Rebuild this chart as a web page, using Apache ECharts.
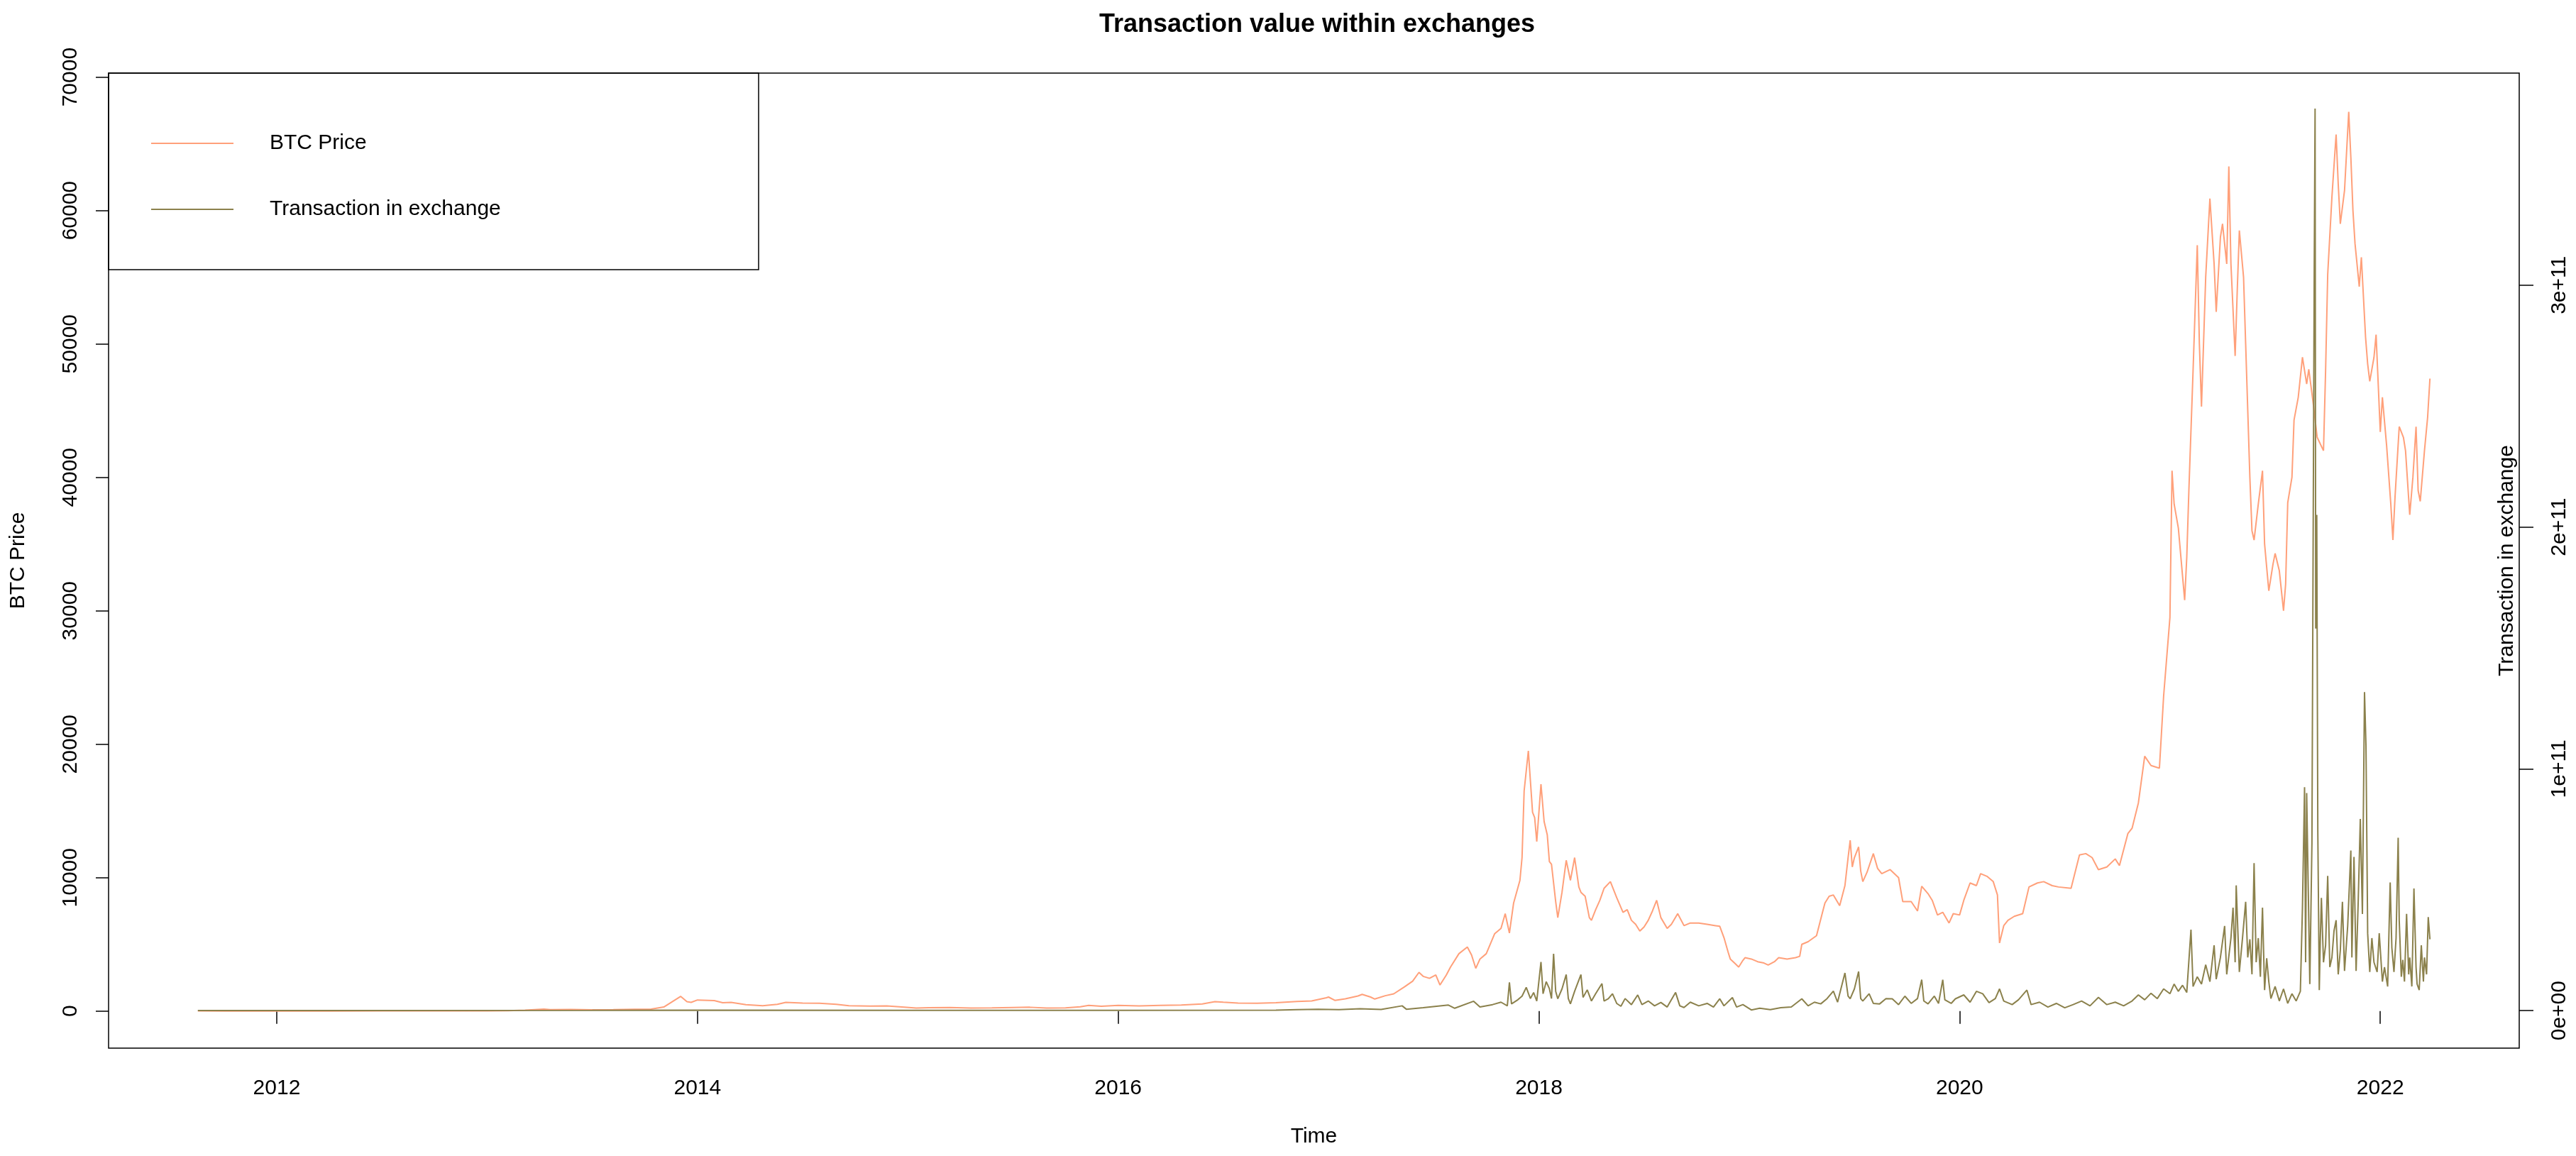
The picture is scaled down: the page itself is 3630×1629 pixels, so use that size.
<!DOCTYPE html>
<html>
<head>
<meta charset="utf-8">
<script src="https://cdn.jsdelivr.net/npm/echarts@6/dist/echarts.min.js"></script>
<style>
  html, body { margin: 0; padding: 0; background: #ffffff; }
  #chart { width: 3630px; height: 1629px; }
</style>
</head>
<body>
<div id="chart"></div>
<script>
// ---- Data ----
// Time in decimal years
const xTickYears = [2012, 2014, 2016, 2018, 2020, 2022];
const leftTicks = [0, 10000, 20000, 30000, 40000, 50000, 60000, 70000];
const rightTicks = [0, 100, 200, 300]; // in billions (1e9)
const rightTickLabels = ['0e+00', '1e+11', '2e+11', '3e+11'];

const priceTime = [
  2011.625, 2011.75, 2011.9, 2012.0, 2012.25, 2012.5, 2012.7, 2012.9, 2013.0, 2013.1,
  2013.18, 2013.27, 2013.3, 2013.4, 2013.5, 2013.6, 2013.7, 2013.78, 2013.84, 2013.88,
  2013.92, 2013.95, 2013.97, 2014.0, 2014.08, 2014.12, 2014.16, 2014.23, 2014.31, 2014.38,
  2014.42, 2014.5, 2014.58, 2014.66, 2014.72, 2014.82, 2014.9, 2014.96, 2015.04, 2015.1,
  2015.2, 2015.3, 2015.4, 2015.5, 2015.58, 2015.66, 2015.75, 2015.82, 2015.86, 2015.92,
  2016.0, 2016.1, 2016.2, 2016.3, 2016.4, 2016.46, 2016.5, 2016.57, 2016.66, 2016.75,
  2016.85, 2016.92, 2016.99, 2017.0, 2017.03, 2017.08, 2017.14, 2017.16, 2017.2, 2017.22,
  2017.27, 2017.31, 2017.36, 2017.40, 2017.43, 2017.45, 2017.48, 2017.51, 2017.53, 2017.56,
  2017.58, 2017.62, 2017.66, 2017.68, 2017.70, 2017.72, 2017.75, 2017.79, 2017.82, 2017.84,
  2017.86, 2017.88, 2017.91, 2017.92, 2017.93, 2017.95, 2017.96, 2017.97, 2017.98, 2017.99,
  2018.01, 2018.025, 2018.04, 2018.05, 2018.06, 2018.08, 2018.09, 2018.11, 2018.13, 2018.15,
  2018.17, 2018.19, 2018.20, 2018.22, 2018.24, 2018.25, 2018.27, 2018.29, 2018.31, 2018.34,
  2018.36, 2018.37, 2018.40, 2018.42, 2018.44, 2018.46, 2018.48, 2018.50, 2018.52, 2018.54,
  2018.56, 2018.58, 2018.61, 2018.63, 2018.66, 2018.69, 2018.72, 2018.76, 2018.80, 2018.84,
  2018.86, 2018.88, 2018.90, 2018.91, 2018.93, 2018.95, 2018.97, 2018.98, 2019.01, 2019.04,
  2019.07, 2019.09, 2019.12, 2019.14, 2019.18, 2019.22, 2019.24, 2019.25, 2019.28, 2019.32,
  2019.35, 2019.36, 2019.38, 2019.40, 2019.43, 2019.455, 2019.47, 2019.48, 2019.49, 2019.50,
  2019.52, 2019.53, 2019.54, 2019.56, 2019.59, 2019.61, 2019.63, 2019.67, 2019.71, 2019.73,
  2019.77, 2019.80, 2019.82, 2019.85, 2019.87, 2019.895, 2019.92, 2019.95, 2019.97, 2020.0,
  2020.02, 2020.05, 2020.08, 2020.10, 2020.13, 2020.16, 2020.18, 2020.19, 2020.21, 2020.23,
  2020.26, 2020.30, 2020.33, 2020.37, 2020.40, 2020.44, 2020.47, 2020.53, 2020.57, 2020.60,
  2020.63, 2020.66, 2020.70, 2020.74, 2020.76, 2020.80, 2020.82, 2020.85, 2020.88, 2020.91,
  2020.95, 2020.97, 2021.00, 2021.01, 2021.02, 2021.04, 2021.07, 2021.08, 2021.09, 2021.11,
  2021.13, 2021.14, 2021.15, 2021.17, 2021.19, 2021.21, 2021.22, 2021.24, 2021.25, 2021.27,
  2021.28, 2021.29, 2021.31, 2021.32, 2021.33, 2021.35, 2021.36, 2021.38, 2021.39, 2021.40,
  2021.42, 2021.44, 2021.45, 2021.47, 2021.49, 2021.50, 2021.52, 2021.54, 2021.55, 2021.56,
  2021.58, 2021.59, 2021.61, 2021.63, 2021.65, 2021.66, 2021.68, 2021.70, 2021.73, 2021.74,
  2021.75, 2021.77, 2021.79, 2021.80, 2021.81, 2021.83, 2021.85, 2021.86, 2021.87, 2021.88,
  2021.90, 2021.91, 2021.93, 2021.94, 2021.95, 2021.97, 2021.98, 2022.00, 2022.01, 2022.03,
  2022.05, 2022.06, 2022.07, 2022.09, 2022.11, 2022.12, 2022.14, 2022.155, 2022.17, 2022.18,
  2022.19, 2022.21, 2022.225, 2022.236
];
const priceValue = [
  11, 5, 3, 5, 5, 7, 12, 13, 13, 25,
  70, 140, 100, 120, 90, 100, 130, 150, 300, 700,
  1100, 700, 650, 830, 780, 620, 650, 480, 400, 500,
  650, 600, 590, 500, 400, 370, 380, 320, 220, 250,
  270, 230, 240, 270, 285, 230, 240, 320, 420, 360,
  430, 380, 420, 450, 530, 700, 660, 600, 580, 620,
  720, 760, 1000, 1050, 800, 920, 1130, 1250, 1050, 900,
  1150, 1290, 1800, 2240, 2900, 2600, 2450, 2700, 1950, 2700,
  3300, 4300, 4800, 4200, 3200, 3900, 4300, 5800, 6200, 7300,
  5850, 8100, 9800, 11500, 16500, 19500, 17200, 14900, 14500, 12700,
  17000, 14200, 13200, 11200, 11000, 8200, 7000, 8900, 11300, 9800,
  11500, 9300, 8900, 8600, 7000, 6800, 7600, 8300, 9200, 9700,
  8900, 8500, 7400, 7600, 6800, 6500, 6000, 6300, 6800, 7500,
  8300, 7000, 6200, 6500, 7300, 6400, 6600, 6600, 6500, 6400,
  6350, 5500, 4400, 3900, 3600, 3300, 3800, 4000, 3900, 3700,
  3600, 3450, 3700, 4000, 3900, 4000, 4100, 5000, 5200, 5650,
  7500, 8100, 8600, 8700, 7900, 9400, 11500, 12800, 10800, 11500,
  12300, 10500, 9700, 10400, 11800, 10700, 10300, 10600, 10000, 8200,
  8200, 7500, 9350, 8800, 8300, 7200, 7400, 6600, 7300, 7200,
  8300, 9600, 9400, 10300, 10100, 9700, 8700, 5100, 6400, 6800,
  7100, 7300, 9300, 9600, 9700, 9400, 9300, 9200, 11700, 11800,
  11500, 10600, 10800, 11400, 10900, 13300, 13700, 15600, 19100, 18400,
  18200, 23600, 29500, 40500, 38000, 36200, 30800, 34000, 39000, 48000,
  57400, 50000, 45300, 55000, 60900, 56000, 52400, 58000, 59000, 56000,
  63300, 56000, 49100, 54000, 58500, 55000, 50000, 40000, 36000, 35300,
  38000, 40500, 35000, 31500, 33500, 34300, 33000, 30000, 32000, 38100,
  40000, 44300, 46000, 49000, 47000, 48100, 45700, 43000, 42000, 48000,
  55200, 61000, 65700, 62000, 59000, 61500, 67400, 64000, 60000, 57500,
  54300, 56500, 50500, 48500, 47200, 49000, 50700, 43400, 46000, 42400,
  38000, 35300, 38500, 43800, 43000, 42000, 37200, 40000, 43800, 39000,
  38200, 42000, 44500, 47400
];

// Transaction value within exchanges, in billions (1e9)
const txTime = [
  2011.625, 2012.5, 2013.5, 2014.0, 2015.0, 2016.0, 2016.75, 2016.85, 2016.95, 2017.05,
  2017.15, 2017.25, 2017.35, 2017.37, 2017.45, 2017.57, 2017.6, 2017.69, 2017.72, 2017.78,
  2017.82, 2017.85, 2017.86, 2017.87, 2017.90, 2017.92, 2017.94, 2017.96, 2017.975, 2017.99,
  2018.01, 2018.02, 2018.035, 2018.05, 2018.06, 2018.07, 2018.08, 2018.09, 2018.11, 2018.13,
  2018.14, 2018.15, 2018.17, 2018.20, 2018.21, 2018.23, 2018.25, 2018.27, 2018.30, 2018.31,
  2018.33, 2018.35, 2018.37, 2018.39, 2018.41, 2018.44, 2018.47, 2018.49, 2018.52, 2018.55,
  2018.58, 2018.61, 2018.65, 2018.67, 2018.69, 2018.72, 2018.76, 2018.80, 2018.83, 2018.86,
  2018.88, 2018.92, 2018.94, 2018.97, 2019.01, 2019.05, 2019.10, 2019.15, 2019.20, 2019.25,
  2019.28, 2019.31, 2019.34, 2019.37, 2019.40, 2019.42, 2019.455, 2019.47, 2019.48, 2019.50,
  2019.52, 2019.53, 2019.54, 2019.57, 2019.59, 2019.62, 2019.65, 2019.68, 2019.71, 2019.74,
  2019.77, 2019.80, 2019.82, 2019.83, 2019.85, 2019.88, 2019.90, 2019.92, 2019.93, 2019.96,
  2019.98, 2020.02, 2020.05, 2020.08, 2020.11, 2020.14, 2020.17, 2020.19, 2020.21, 2020.25,
  2020.28, 2020.32, 2020.34, 2020.38, 2020.42, 2020.46, 2020.50, 2020.54, 2020.58, 2020.62,
  2020.66, 2020.70, 2020.74, 2020.78, 2020.82, 2020.85, 2020.88, 2020.91, 2020.94, 2020.97,
  2021.00, 2021.02, 2021.04, 2021.06, 2021.08, 2021.10, 2021.11, 2021.13, 2021.15, 2021.17,
  2021.19, 2021.21, 2021.22, 2021.24, 2021.26, 2021.27, 2021.29, 2021.30, 2021.31, 2021.315,
  2021.33, 2021.345, 2021.36, 2021.37, 2021.38, 2021.39, 2021.40, 2021.41, 2021.42, 2021.43,
  2021.44, 2021.45, 2021.46, 2021.47, 2021.48, 2021.50, 2021.52, 2021.54, 2021.56, 2021.58,
  2021.60, 2021.62, 2021.63, 2021.64, 2021.645, 2021.65, 2021.665, 2021.675, 2021.686, 2021.69,
  2021.693, 2021.698, 2021.703, 2021.71, 2021.715, 2021.72, 2021.73, 2021.74, 2021.75, 2021.76,
  2021.77, 2021.78, 2021.79, 2021.80, 2021.81, 2021.82, 2021.83, 2021.845, 2021.86, 2021.865,
  2021.875, 2021.885, 2021.895, 2021.905, 2021.915, 2021.925, 2021.932, 2021.94, 2021.95, 2021.96,
  2021.97, 2021.985, 2021.995, 2022.01, 2022.02, 2022.035, 2022.047, 2022.055, 2022.065, 2022.075,
  2022.085, 2022.09, 2022.10, 2022.107, 2022.115, 2022.125, 2022.135, 2022.14, 2022.15, 2022.16,
  2022.17, 2022.175, 2022.185, 2022.195, 2022.205, 2022.21, 2022.22, 2022.228, 2022.236
];
const txValue = [
  0.05, 0.05, 0.1, 0.2, 0.1, 0.1, 0.2, 0.4, 0.6, 0.4,
  0.8, 0.5, 2.0, 0.6, 1.2, 2.3, 1.0, 3.9, 1.5, 2.5,
  3.5, 2.0, 11.7, 2.8, 4.5, 6.0, 9.6, 5.0, 7.5, 4.0,
  20.1, 7.0, 12.0, 9.1, 5.0, 23.5, 8.0, 4.9, 9.0, 14.9,
  5.0, 2.8, 8.0, 14.9, 5.5, 8.6, 4.0, 7.0, 11.2, 4.0,
  4.9, 7.0, 3.0, 1.8, 5.0, 2.5, 6.5, 2.5, 4.0, 2.0,
  3.4, 1.5, 7.5, 2.0, 1.3, 3.5, 2.0, 3.0, 1.5, 4.9,
  2.0, 5.4, 1.5, 2.5, 0.3, 1.0, 0.4, 1.2, 1.5, 4.9,
  2.0, 3.5, 2.8, 5.0, 8.1, 3.5, 15.6, 6.0, 4.9, 9.0,
  16.2, 5.0, 4.0, 7.0, 3.0, 2.8, 5.0, 4.9, 2.5, 6.0,
  3.0, 5.0, 12.8, 4.0, 2.8, 6.0, 3.0, 12.8, 4.5, 3.0,
  4.9, 6.5, 3.5, 8.0, 7.0, 3.3, 5.0, 9.0, 4.0, 2.5,
  4.5, 8.5, 2.5, 3.5, 1.5, 3.0, 1.2, 2.5, 4.0, 2.0,
  5.5, 2.5, 3.5, 2.0, 4.0, 6.5, 4.5, 7.2, 5.0, 9.0,
  7.0, 11.0, 8.0, 10.5, 7.5, 33.5, 10.0, 14.0, 11.0, 19.0,
  12.0, 27.0, 13.0, 22.0, 35.0, 15.0, 30.0, 42.6, 20.0, 51.8,
  16.0, 30.0, 45.0, 22.0, 29.5, 15.0, 61.0, 20.0, 30.0, 14.0,
  42.6, 8.5, 21.7, 12.0, 5.0, 10.0, 4.0, 9.0, 3.0, 7.0,
  4.0, 8.0, 42.6, 92.4, 20.0, 90.0, 11.0, 69.0, 307.0, 373.0,
  158.0, 205.0, 74.0, 8.5, 30.0, 46.6, 20.0, 27.0, 55.7, 18.0,
  22.0, 33.0, 37.4, 15.0, 25.0, 45.0, 16.4, 35.0, 66.2, 22.0,
  63.6, 16.4, 45.0, 79.3, 40.0, 131.7, 109.5, 32.0, 16.0, 30.0,
  20.0, 16.0, 32.0, 12.0, 18.0, 10.0, 53.0, 26.0, 16.0, 30.0,
  71.5, 37.4, 14.0, 21.0, 12.0, 40.0, 15.0, 22.0, 10.0, 50.5,
  18.0, 11.0, 8.5, 27.0, 12.0, 22.0, 15.0, 38.7, 29.5
];

// ---- Build chart ----
const FONT = '"Liberation Sans", Arial, sans-serif';
const priceColor = '#FFA07A';
const txColor = '#8B814C';

const priceData = priceTime.map((t, i) => [t, priceValue[i]]);
const txData = txTime.map((t, i) => [t, txValue[i]]);

const chart = echarts.init(document.getElementById('chart'), null, { renderer: 'canvas' });

const option = {
  animation: false,
  backgroundColor: '#ffffff',
  textStyle: { fontFamily: FONT },
  title: {
    text: 'Transaction value within exchanges',
    left: 1851,
    textAlign: 'center',
    top: 12,
    textStyle: { fontFamily: FONT, fontSize: 36, fontWeight: 'bold', color: '#000' }
  },
  legend: {
    orient: 'vertical',
    left: 208,
    top: 182,
    itemGap: 63,
    itemWidth: 116,
    itemHeight: 2,
    icon: 'rect',
    textStyle: { fontFamily: FONT, fontSize: 30, color: '#000', padding: [0, 0, 0, 46] },
    data: [
      { name: 'BTC Price', itemStyle: { color: priceColor } },
      { name: 'Transaction in exchange', itemStyle: { color: txColor } }
    ]
  },
  graphic: [{
    type: 'rect',
    shape: { x: 153, y: 103, width: 916, height: 277 },
    style: { fill: 'none', stroke: '#000', lineWidth: 1.5 },
    z: 100
  }],
  grid: {
    left: 153, right: 80, top: 103, bottom: 152,
    outerBoundsMode: 'none',
    containLabel: false,
    show: true, borderColor: '#000', borderWidth: 1.5, backgroundColor: 'transparent'
  },
  xAxis: {
    type: 'value',
    min: 2011.2006,
    max: 2022.6605,
    name: 'Time',
    nameLocation: 'middle',
    nameGap: 110,
    nameMoveOverlap: false,
    nameTextStyle: { fontFamily: FONT, fontSize: 30, color: '#000' },
    axisLine: { show: false },
    splitLine: { show: false },
    axisTick: { show: true, inside: false, length: 18, customValues: xTickYears,
      lineStyle: { color: '#000', width: 1.5 } },
    axisLabel: { show: true, customValues: xTickYears, margin: 42,
      fontFamily: FONT, fontSize: 30, color: '#000', formatter: v => String(v) }
  },
  yAxis: [{
    type: 'value',
    position: 'left',
    min: -2780,
    max: 70300,
    name: 'BTC Price',
    nameLocation: 'middle',
    nameGap: 112,
    nameMoveOverlap: false,
    nameTextStyle: { fontFamily: FONT, fontSize: 30, color: '#000' },
    axisLine: { show: false },
    splitLine: { show: false },
    axisTick: { show: true, inside: false, length: 18, customValues: leftTicks,
      lineStyle: { color: '#000', width: 1.5 } },
    axisLabel: { show: true, customValues: leftTicks, rotate: 90, margin: 38,
      fontFamily: FONT, fontSize: 30, color: '#000', formatter: v => String(v) }
  }, {
    type: 'value',
    position: 'right',
    min: -15.5,
    max: 387.7,
    name: 'Transaction in exchange',
    nameLocation: 'middle',
    nameGap: -32,
    nameMoveOverlap: false,
    nameTextStyle: { fontFamily: FONT, fontSize: 30, color: '#000' },
    axisLine: { show: false },
    splitLine: { show: false },
    axisTick: { show: true, inside: false, length: 20, customValues: rightTicks,
      lineStyle: { color: '#000', width: 1.5 } },
    axisLabel: { show: true, customValues: rightTicks, rotate: 90, margin: 42,
      fontFamily: FONT, fontSize: 30, color: '#000',
      formatter: v => rightTickLabels[rightTicks.indexOf(v)] }
  }],
  series: [{
    name: 'BTC Price',
    type: 'line',
    xAxisIndex: 0,
    yAxisIndex: 0,
    data: priceData,
    showSymbol: false,
    symbol: 'none',
    lineStyle: { color: priceColor, width: 2 },
    itemStyle: { color: priceColor },
    z: 2
  }, {
    name: 'Transaction in exchange',
    type: 'line',
    xAxisIndex: 0,
    yAxisIndex: 1,
    data: txData,
    showSymbol: false,
    symbol: 'none',
    lineStyle: { color: txColor, width: 2 },
    itemStyle: { color: txColor },
    z: 3
  }]
};

chart.setOption(option);
</script>
</body>
</html>
